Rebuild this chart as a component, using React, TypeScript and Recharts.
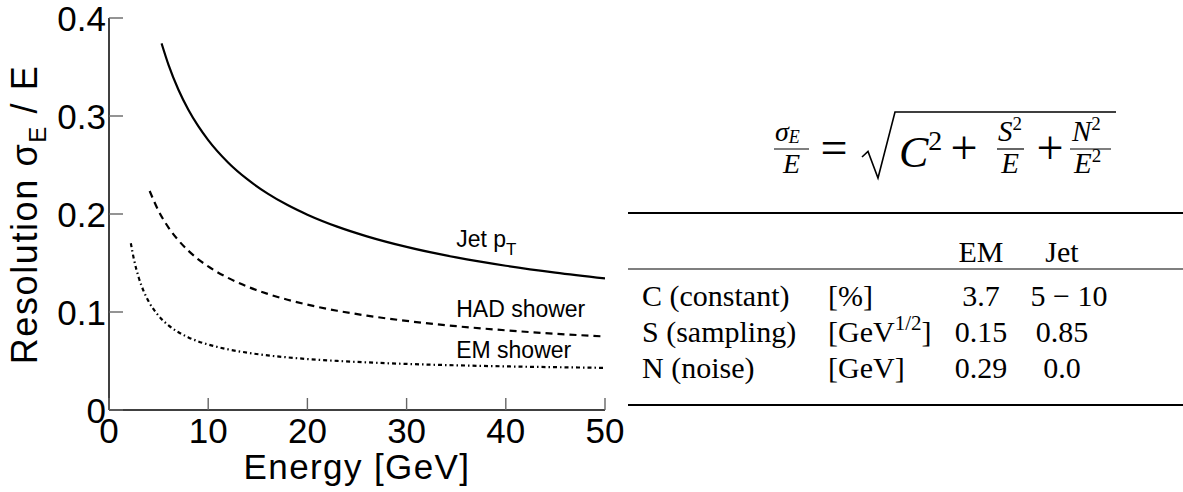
import React from 'react';
import { LineChart, Line, XAxis, YAxis, ReferenceDot } from 'recharts';

// ---- data ----
const jetEnergy = [5.3, 6, 7, 8, 9, 10, 12, 14, 16, 18, 20, 23, 26, 30, 35, 40, 45, 50];
const jetRes = [0.3741, 0.3522, 0.3268, 0.3064, 0.2896, 0.2754, 0.2526, 0.235, 0.2208, 0.2091, 0.1993, 0.1871, 0.1772, 0.1664, 0.1557, 0.1472, 0.1402, 0.1343];

const hadEnergy = [4.1, 5, 6, 7, 8, 9, 10, 12, 14, 16, 18, 20, 23, 26, 30, 35, 40, 45, 50];
const hadRes = [0.2235, 0.2031, 0.1862, 0.1731, 0.1625, 0.1538, 0.1465, 0.1348, 0.1257, 0.1185, 0.1125, 0.1075, 0.1013, 0.0963, 0.0909, 0.0855, 0.0813, 0.0778, 0.075];

const emEnergy = [2.2, 2.5, 3, 3.5, 4, 5, 6, 7, 8, 9, 10, 12, 14, 16, 18, 20, 23, 26, 30, 35, 40, 45, 50];
const emRes = [0.1702, 0.1544, 0.135, 0.1211, 0.1107, 0.0961, 0.0863, 0.0794, 0.0741, 0.07, 0.0668, 0.0619, 0.0584, 0.0557, 0.0537, 0.052, 0.0501, 0.0486, 0.047, 0.0456, 0.0445, 0.0437, 0.043];

const xTicks = [0, 10, 20, 30, 40, 50];
const yTicks = [0, 0.1, 0.2, 0.3, 0.4];
const yTickLabels = ['0', '0.1', '0.2', '0.3', '0.4'];

const columnHeads = ['EM', 'Jet'];
const rowNames = ['C (constant)', 'S (sampling)', 'N (noise)'];
const emValues = ['3.7', '0.15', '0.29'];
const jetValues = ['5 \u2212 10', '0.85', '0.0'];

const toPoints = (es: number[], rs: number[]) => es.map((e, i) => ({ e, r: rs[i] }));
const jetData = toPoints(jetEnergy, jetRes);
const hadData = toPoints(hadEnergy, hadRes);
const emData = toPoints(emEnergy, emRes);

const sans = "'Liberation Sans', Arial, Helvetica, sans-serif";
const serif = "'Liberation Serif', 'Times New Roman', serif";

const YTick = (props: any) => {
  const { x, y, payload } = props;
  const idx = yTicks.indexOf(payload.value);
  const label = idx >= 0 ? yTickLabels[idx] : String(payload.value);
  return (
    <g>
      <line x1={x} y1={y} x2={x + 14} y2={y} stroke="#666" strokeWidth={1.4} />
      <text x={x - 3} y={y + 12.5} textAnchor="end" fontSize={35} fontFamily={sans} fill="#000">
        {label}
      </text>
    </g>
  );
};

const XTick = (props: any) => {
  const { x, y, payload } = props;
  return (
    <g>
      <line x1={x} y1={y} x2={x} y2={y - 12} stroke="#666" strokeWidth={1.4} />
      <text x={x} y={y + 33} textAnchor="middle" fontSize={35} fontFamily={sans} fill="#000">
        {String(payload.value)}
      </text>
    </g>
  );
};

const curveLabel = (text: string, sub?: string) => (props: any) => {
  const vb = props.viewBox || {};
  return (
    <text x={vb.x} y={vb.y} fontSize={23} fontFamily={sans} fill="#000">
      {text}
      {sub ? (
        <tspan fontSize={17} dy={8}>
          {sub}
        </tspan>
      ) : null}
    </text>
  );
};

const Formula = () => (
  <g fontFamily={serif} fill="#000">
    <text x={775} y={141} fontSize={28} fontStyle="italic">
      σ<tspan fontSize={18} dy={2}>E</tspan>
    </text>
    <line x1={774} x2={809} y1={149} y2={149} stroke="#000" strokeWidth={1.2} />
    <text x={791.5} y={173} fontSize={28} fontStyle="italic" textAnchor="middle">E</text>
    <text x={834} y={164} fontSize={48} textAnchor="middle">=</text>
    <path d="M862 157 L868 151.5 L878 178 L895 112 L1116 112" fill="none" stroke="#000" strokeWidth={1.6} />
    <text x={899} y={167} fontSize={44} fontStyle="italic">
      C<tspan fontSize={28} fontStyle="normal" dy={-17}>2</tspan>
    </text>
    <text x={964} y={164} fontSize={48} textAnchor="middle">+</text>
    <text x={998} y={141} fontSize={29} fontStyle="italic">
      S<tspan fontSize={19} fontStyle="normal" dy={-11}>2</tspan>
    </text>
    <line x1={997} x2={1024} y1={149} y2={149} stroke="#000" strokeWidth={1.2} />
    <text x={1010} y={173} fontSize={29} fontStyle="italic" textAnchor="middle">E</text>
    <text x={1050} y={164} fontSize={48} textAnchor="middle">+</text>
    <text x={1072} y={141} fontSize={29} fontStyle="italic">
      N<tspan fontSize={19} fontStyle="normal" dy={-11}>2</tspan>
    </text>
    <line x1={1070} x2={1111} y1={149} y2={149} stroke="#000" strokeWidth={1.2} />
    <text x={1074} y={173} fontSize={29} fontStyle="italic">
      E<tspan fontSize={19} fontStyle="normal" dy={-11}>2</tspan>
    </text>
  </g>
);

const Table = () => {
  const rowBase = [306, 342, 378];
  return (
    <g fontFamily={serif} fill="#000" fontSize={30}>
      <line x1={628} x2={1183} y1={213} y2={213} stroke="#000" strokeWidth={2} />
      <line x1={628} x2={1183} y1={269} y2={269} stroke="#000" strokeWidth={1.2} />
      <line x1={628} x2={1183} y1={405} y2={405} stroke="#000" strokeWidth={2} />
      <text x={981} y={262} textAnchor="middle">{columnHeads[0]}</text>
      <text x={1062} y={262} textAnchor="middle">{columnHeads[1]}</text>
      {rowNames.map((n, i) => (
        <text key={'n' + i} x={642} y={rowBase[i]}>{n}</text>
      ))}
      <text x={828} y={rowBase[0]}>[%]</text>
      <text x={828} y={rowBase[1]}>
        [GeV<tspan fontSize={21} dy={-12}>1/2</tspan>
        <tspan dy={12}>]</tspan>
      </text>
      <text x={828} y={rowBase[2]}>[GeV]</text>
      {emValues.map((v, i) => (
        <text key={'e' + i} x={981} y={rowBase[i]} textAnchor="middle">{v}</text>
      ))}
      {jetValues.map((v, i) => (
        <text key={'j' + i} x={i === 0 ? 1069 : 1062} y={rowBase[i]} textAnchor="middle">{v}</text>
      ))}
    </g>
  );
};

export default function App() {
  return (
    <div style={{ position: 'absolute', left: 0, top: 0, width: 1183, height: 492, background: '#fff' }}>
      <LineChart width={1183} height={492} margin={{ top: 18, right: 578, bottom: 0, left: 39 }}>
        <XAxis
          dataKey="e"
          type="number"
          domain={[0, 50]}
          ticks={xTicks}
          interval={0}
          tickSize={0}
          tickMargin={0}
          tickLine={false}
          tick={<XTick />}
          height={82}
          axisLine={{ stroke: '#000', strokeWidth: 1.5 }}
          allowDataOverflow
        />
        <YAxis
          type="number"
          domain={[0, 0.4]}
          ticks={yTicks}
          interval={0}
          tickSize={0}
          tickMargin={0}
          tickLine={false}
          tick={<YTick />}
          width={70}
          axisLine={{ stroke: '#000', strokeWidth: 1.5 }}
          allowDataOverflow
        />
        <Line data={jetData} dataKey="r" type="monotone" stroke="#000" strokeWidth={2.2} dot={false} isAnimationActive={false} />
        <Line data={hadData} dataKey="r" type="monotone" stroke="#000" strokeWidth={2.2} strokeDasharray="7 5" dot={false} isAnimationActive={false} />
        <Line data={emData} dataKey="r" type="monotone" stroke="#000" strokeWidth={2.2} strokeDasharray="4 3 1.5 3" dot={false} isAnimationActive={false} />
        <ReferenceDot x={35} y={0.1663} r={0} fill="none" stroke="none" label={curveLabel('Jet p', 'T')} />
        <ReferenceDot x={35} y={0.0949} r={0} fill="none" stroke="none" label={curveLabel('HAD shower')} />
        <ReferenceDot x={35} y={0.0531} r={0} fill="none" stroke="none" label={curveLabel('EM shower')} />
      </LineChart>
      <svg width={1183} height={492} style={{ position: 'absolute', left: 0, top: 0, pointerEvents: 'none' }}>
        <text
          transform="translate(37 214.5) rotate(-90)"
          textAnchor="middle"
          fontSize={36}
          letterSpacing={1.6}
          fontFamily={sans}
          fill="#000"
        >
          Resolution σ<tspan fontSize={24} dy={9}>E</tspan>
          <tspan dy={-9}> / E</tspan>
        </text>
        <text x={357} y={479} textAnchor="middle" fontSize={35} letterSpacing={1.4} fontFamily={sans} fill="#000">
          Energy [GeV]
        </text>
        <Formula />
        <Table />
      </svg>
    </div>
  );
}
